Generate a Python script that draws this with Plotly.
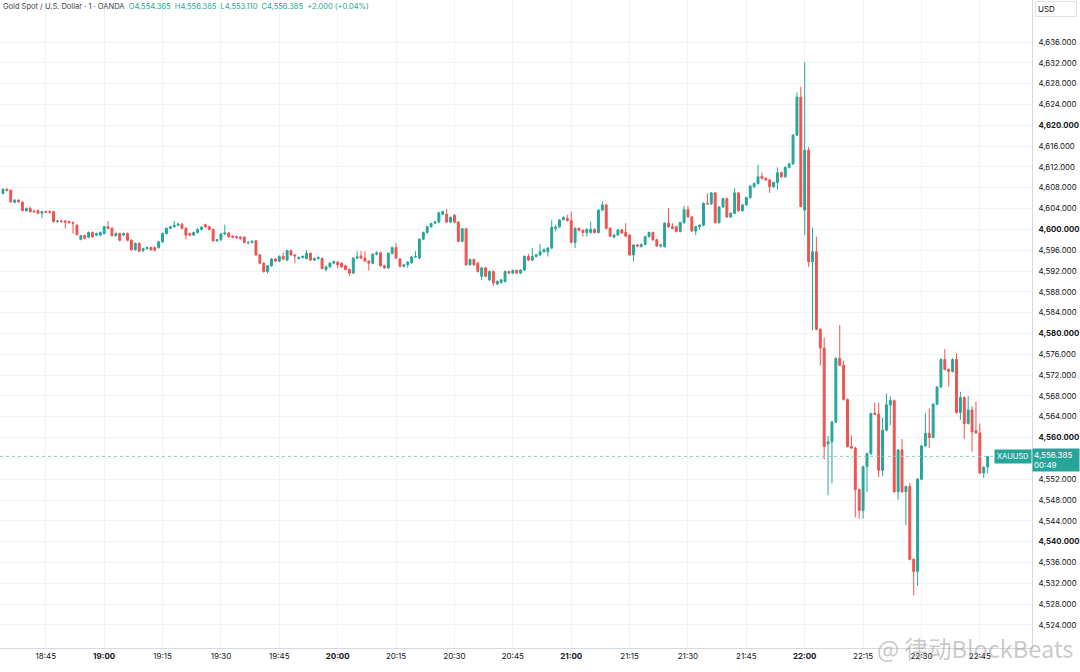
import pandas as pd
import plotly.graph_objects as go

# 1-minute OANDA XAUUSD candles, 18:34 -> 22:47
opens = [
    4606.9, 4607.7, 4607.5, 4605.2, 4605.6, 4605.2, 4603.6, 4604.0, 4603.5, 4603.6,
    4603.1, 4603.4, 4603.4, 4603.4, 4601.5, 4601.6, 4601.6, 4601.5, 4601.3, 4600.8,
    4598.1, 4598.8, 4598.5, 4599.4, 4598.9, 4598.9, 4599.2, 4600.5, 4600.2, 4598.8,
    4599.2, 4598.9, 4599.2, 4597.9, 4596.1, 4597.3, 4595.9, 4596.3, 4596.5, 4596.5,
    4596.5, 4597.6, 4599.2, 4600.2, 4600.5, 4600.8, 4601.0, 4600.2, 4599.2, 4598.9,
    4599.4, 4600.0, 4600.9, 4600.5, 4600.0, 4597.8, 4598.0, 4599.1, 4599.3, 4598.7,
    4598.6, 4598.5, 4598.5, 4597.4, 4597.5, 4597.8, 4595.1, 4593.5, 4591.9, 4593.0,
    4594.3, 4593.9, 4594.8, 4594.1, 4595.9, 4595.1, 4594.4, 4594.6, 4594.4, 4595.4,
    4594.1, 4594.4, 4594.4, 4592.3, 4592.8, 4593.5, 4593.7, 4593.5, 4593.0, 4592.3,
    4591.6, 4594.5, 4594.9, 4594.5, 4593.9, 4593.5, 4595.2, 4595.5, 4593.0, 4592.6,
    4595.4, 4596.5, 4594.3, 4592.9, 4593.2, 4593.6, 4594.7, 4594.5, 4598.1, 4599.4,
    4600.5, 4601.2, 4601.4, 4602.9, 4602.9, 4601.4, 4602.7, 4601.4, 4597.7, 4600.1,
    4593.2, 4594.2, 4593.5, 4591.0, 4592.6, 4590.3, 4591.9, 4589.5, 4589.8, 4590.0,
    4591.9, 4591.6, 4592.1, 4591.6, 4592.2, 4594.8, 4594.1, 4594.8, 4595.1, 4595.7,
    4595.7, 4596.4, 4600.2, 4600.5, 4601.9, 4602.1, 4601.7, 4597.5, 4600.2, 4599.8,
    4599.4, 4599.4, 4600.0, 4599.4, 4603.7, 4604.7, 4600.2, 4598.5, 4598.9, 4599.9,
    4599.4, 4598.9, 4595.1, 4597.0, 4596.7, 4597.1, 4598.6, 4599.4, 4598.0, 4596.8,
    4596.7, 4601.2, 4600.5, 4600.5, 4599.6, 4601.3, 4603.8, 4602.4, 4599.7, 4600.5,
    4600.8, 4605.0, 4604.9, 4607.0, 4601.3, 4604.3, 4605.9, 4602.4, 4603.1, 4607.0,
    4603.6, 4604.7, 4606.1, 4608.2, 4608.8, 4610.2, 4609.8, 4609.5, 4608.2, 4609.0,
    4610.9, 4610.1, 4611.9, 4612.6, 4618.1, 4625.4, 4603.7, 4615.2, 4593.8, 4595.7,
    4580.8, 4577.2, 4558.8, 4559.2, 4563.0, 4575.2, 4573.9, 4567.3, 4558.3, 4558.0,
    4550.0, 4546.0, 4554.4, 4556.9, 4564.7, 4564.5, 4553.7, 4561.4, 4566.3, 4567.1,
    4549.6, 4557.6, 4549.6, 4550.6, 4536.6, 4534.3, 4552.0, 4558.4, 4560.8, 4560.0,
    4566.4, 4569.7, 4575.0, 4573.1, 4572.7, 4575.0, 4564.8, 4567.7, 4562.7, 4565.3,
    4561.3, 4560.9, 4553.2, 4554.365,
]
highs = [
    4607.9, 4607.9, 4607.7, 4605.8, 4605.8, 4605.4, 4604.2, 4604.4, 4603.8, 4603.8,
    4603.6, 4603.6, 4603.6, 4603.6, 4601.8, 4601.9, 4601.8, 4601.7, 4601.5, 4601.0,
    4598.9, 4599.0, 4599.6, 4599.6, 4599.4, 4599.6, 4600.7, 4601.6, 4600.4, 4599.4,
    4599.4, 4599.4, 4599.4, 4598.1, 4597.5, 4597.5, 4596.5, 4596.7, 4596.7, 4596.7,
    4597.8, 4599.4, 4600.4, 4600.7, 4601.6, 4601.3, 4601.2, 4600.4, 4599.4, 4599.6,
    4600.2, 4600.6, 4601.1, 4600.7, 4600.2, 4598.2, 4599.3, 4600.9, 4599.5, 4598.9,
    4598.8, 4598.7, 4598.7, 4597.7, 4597.9, 4598.0, 4595.3, 4593.7, 4593.2, 4594.5,
    4594.5, 4595.0, 4595.6, 4596.1, 4596.1, 4595.3, 4594.8, 4595.0, 4596.0, 4595.6,
    4594.6, 4594.8, 4594.6, 4593.0, 4593.7, 4594.0, 4593.9, 4593.7, 4593.2, 4592.5,
    4594.7, 4595.8, 4595.8, 4595.8, 4594.1, 4595.4, 4595.8, 4595.7, 4593.2, 4595.6,
    4596.7, 4597.4, 4594.5, 4593.4, 4593.9, 4594.9, 4595.8, 4598.3, 4599.6, 4600.7,
    4601.3, 4601.6, 4603.4, 4603.6, 4603.9, 4602.5, 4602.9, 4601.6, 4600.3, 4600.3,
    4594.4, 4594.4, 4593.7, 4592.8, 4592.8, 4592.1, 4592.1, 4590.2, 4590.5, 4592.1,
    4592.1, 4592.3, 4592.3, 4592.3, 4595.0, 4595.3, 4596.4, 4595.3, 4597.2, 4596.3,
    4596.6, 4601.8, 4600.9, 4602.0, 4602.5, 4602.8, 4603.4, 4600.4, 4600.4, 4600.0,
    4600.2, 4601.5, 4600.2, 4603.9, 4605.4, 4604.9, 4600.4, 4599.1, 4600.1, 4600.1,
    4601.2, 4599.1, 4597.2, 4597.2, 4597.3, 4598.8, 4599.6, 4599.6, 4598.2, 4597.2,
    4601.4, 4604.1, 4601.2, 4600.7, 4601.5, 4604.5, 4604.5, 4602.6, 4600.7, 4601.0,
    4605.2, 4606.9, 4607.2, 4607.2, 4604.5, 4606.1, 4606.1, 4603.3, 4607.9, 4607.2,
    4604.9, 4606.3, 4608.5, 4609.0, 4612.4, 4610.9, 4610.0, 4609.7, 4609.2, 4611.9,
    4611.1, 4612.1, 4612.8, 4618.3, 4626.3, 4627.4, 4632.1, 4615.8, 4600.3, 4598.6,
    4581.0, 4579.2, 4560.3, 4563.2, 4575.4, 4581.6, 4574.8, 4567.5, 4560.4, 4558.2,
    4550.2, 4554.6, 4557.1, 4564.8, 4566.7, 4566.7, 4563.8, 4568.5, 4567.9, 4567.3,
    4557.8, 4559.7, 4550.8, 4551.3, 4536.8, 4552.2, 4558.6, 4564.7, 4565.6, 4566.6,
    4569.9, 4575.2, 4577.0, 4573.3, 4575.2, 4576.2, 4568.8, 4567.9, 4568.0, 4566.0,
    4566.9, 4562.7, 4554.5, 4556.385,
]
lows = [
    4606.7, 4607.3, 4605.1, 4605.0, 4605.1, 4603.5, 4603.4, 4603.2, 4603.2, 4602.9,
    4602.2, 4603.1, 4603.0, 4601.3, 4601.3, 4601.3, 4600.2, 4601.1, 4599.2, 4598.8,
    4597.9, 4598.1, 4598.3, 4598.4, 4598.7, 4598.7, 4599.0, 4600.0, 4598.6, 4598.6,
    4597.7, 4598.7, 4597.7, 4595.9, 4595.9, 4595.6, 4595.7, 4596.1, 4595.9, 4595.8,
    4596.3, 4597.4, 4599.0, 4600.0, 4600.3, 4600.6, 4600.0, 4598.1, 4598.7, 4598.7,
    4599.2, 4599.8, 4600.3, 4599.8, 4597.6, 4597.6, 4597.8, 4598.9, 4598.4, 4598.3,
    4598.2, 4598.0, 4597.3, 4597.1, 4597.3, 4594.9, 4593.3, 4591.7, 4591.5, 4592.8,
    4593.7, 4593.7, 4594.1, 4593.9, 4594.9, 4593.5, 4594.2, 4594.4, 4594.2, 4593.9,
    4593.9, 4594.2, 4592.3, 4591.9, 4592.6, 4593.3, 4592.5, 4592.6, 4592.1, 4591.0,
    4591.4, 4594.3, 4594.3, 4593.7, 4592.1, 4593.3, 4595.0, 4592.8, 4592.4, 4592.4,
    4595.2, 4594.3, 4592.7, 4592.7, 4592.6, 4593.4, 4594.5, 4594.3, 4597.9, 4599.2,
    4600.3, 4601.0, 4601.2, 4602.7, 4601.2, 4601.2, 4601.2, 4597.5, 4597.5, 4593.0,
    4593.0, 4593.0, 4591.7, 4590.3, 4590.8, 4590.1, 4589.2, 4589.3, 4589.6, 4589.8,
    4591.4, 4591.4, 4591.4, 4591.4, 4592.0, 4593.9, 4593.9, 4594.6, 4594.9, 4595.5,
    4594.8, 4596.2, 4599.6, 4600.3, 4601.7, 4601.5, 4597.3, 4596.4, 4599.6, 4598.6,
    4598.6, 4599.2, 4599.2, 4599.2, 4603.5, 4600.0, 4598.5, 4598.3, 4598.7, 4599.1,
    4598.5, 4594.9, 4593.8, 4596.6, 4596.5, 4596.9, 4598.4, 4597.8, 4596.6, 4596.5,
    4596.5, 4600.3, 4600.0, 4599.4, 4599.4, 4601.1, 4602.2, 4599.5, 4598.9, 4599.9,
    4600.6, 4604.7, 4604.7, 4601.1, 4601.1, 4604.1, 4602.2, 4602.2, 4602.9, 4603.4,
    4603.4, 4604.5, 4605.9, 4608.0, 4608.6, 4609.6, 4609.3, 4607.0, 4608.0, 4607.6,
    4609.9, 4609.9, 4611.7, 4612.4, 4617.9, 4604.2, 4598.9, 4592.8, 4580.6, 4580.6,
    4573.9, 4555.8, 4548.9, 4551.2, 4562.8, 4573.7, 4567.1, 4558.1, 4557.8, 4544.7,
    4544.4, 4544.4, 4549.5, 4556.7, 4564.3, 4552.4, 4552.6, 4561.2, 4562.4, 4549.4,
    4548.1, 4549.4, 4543.2, 4536.4, 4529.7, 4531.5, 4551.8, 4558.2, 4558.0, 4559.9,
    4566.2, 4569.5, 4572.9, 4569.8, 4572.5, 4564.6, 4563.4, 4559.7, 4562.5, 4557.3,
    4560.7, 4553.0, 4552.2, 4553.110,
]
closes = [
    4607.7, 4607.5, 4605.3, 4605.6, 4605.3, 4603.6, 4604.0, 4603.4, 4603.4, 4603.1,
    4603.4, 4603.3, 4603.3, 4601.5, 4601.6, 4601.5, 4601.4, 4601.3, 4601.2, 4599.0,
    4598.8, 4598.3, 4599.4, 4598.6, 4599.2, 4599.4, 4600.5, 4600.2, 4598.8, 4599.2,
    4597.9, 4599.2, 4597.9, 4596.1, 4597.3, 4595.8, 4596.3, 4596.5, 4596.1, 4596.0,
    4597.6, 4599.2, 4600.2, 4600.5, 4600.8, 4601.0, 4600.2, 4598.9, 4598.9, 4599.4,
    4600.0, 4600.4, 4600.5, 4600.0, 4597.8, 4598.0, 4599.1, 4599.3, 4598.6, 4598.5,
    4598.4, 4598.3, 4597.5, 4597.5, 4597.7, 4595.1, 4593.5, 4591.9, 4593.0, 4594.3,
    4593.9, 4594.8, 4594.3, 4595.9, 4595.1, 4594.9, 4594.6, 4594.8, 4595.4, 4594.1,
    4594.4, 4594.6, 4592.5, 4592.8, 4593.5, 4593.8, 4593.2, 4592.8, 4592.3, 4591.6,
    4594.5, 4594.7, 4594.5, 4593.9, 4593.5, 4595.2, 4595.5, 4593.0, 4592.6, 4595.4,
    4596.5, 4594.5, 4592.9, 4593.2, 4593.7, 4594.7, 4594.8, 4598.1, 4599.4, 4600.5,
    4601.1, 4601.4, 4603.2, 4603.4, 4601.4, 4602.3, 4601.4, 4597.7, 4600.1, 4593.2,
    4594.2, 4593.2, 4591.9, 4592.6, 4591.0, 4591.9, 4589.7, 4590.0, 4590.3, 4591.9,
    4591.6, 4592.1, 4591.6, 4592.2, 4594.8, 4594.1, 4594.8, 4595.1, 4595.7, 4596.1,
    4596.4, 4600.4, 4600.4, 4601.8, 4602.3, 4601.7, 4597.5, 4600.2, 4599.8, 4599.4,
    4600.0, 4600.0, 4599.4, 4603.7, 4604.7, 4600.2, 4598.7, 4598.9, 4599.9, 4599.3,
    4598.7, 4595.1, 4597.0, 4596.8, 4597.1, 4598.6, 4599.4, 4598.0, 4596.8, 4597.0,
    4601.2, 4600.5, 4600.2, 4599.6, 4601.3, 4603.8, 4602.4, 4599.7, 4600.5, 4600.8,
    4605.0, 4604.9, 4607.0, 4601.3, 4604.3, 4605.9, 4602.4, 4603.1, 4607.0, 4603.6,
    4604.7, 4606.1, 4608.3, 4608.8, 4610.1, 4609.8, 4609.5, 4608.2, 4609.0, 4610.9,
    4610.1, 4611.9, 4612.6, 4618.1, 4625.4, 4604.4, 4615.2, 4593.8, 4595.7, 4580.8,
    4577.2, 4558.3, 4559.2, 4563.0, 4575.2, 4573.9, 4567.3, 4558.3, 4558.0, 4550.0,
    4546.0, 4554.4, 4556.9, 4564.6, 4564.5, 4553.7, 4561.4, 4566.3, 4567.1, 4549.6,
    4557.6, 4549.6, 4550.6, 4536.6, 4534.3, 4552.0, 4558.4, 4560.8, 4560.0, 4566.4,
    4569.7, 4575.0, 4573.1, 4572.7, 4575.0, 4564.8, 4567.7, 4562.7, 4565.3, 4561.1,
    4560.9, 4553.2, 4554.3, 4556.385,
]

time_ticks = ['18:45', '19:00', '19:15', '19:30', '19:45', '20:00', '20:15', '20:30', '20:45',
              '21:00', '21:15', '21:30', '21:45', '22:00', '22:15', '22:30', '22:45']
price_ticks = [4524, 4528, 4532, 4536, 4540, 4544, 4548, 4552, 4556, 4560, 4564, 4568, 4572,
               4576, 4580, 4584, 4588, 4592, 4596, 4600, 4604, 4608, 4612, 4616, 4620, 4624,
               4628, 4632, 4636]
last_price = 4556.385

UP = '#26a69a'
DOWN = '#ef5350'
GRID = '#f1f3f8'
TEXT = '#131722'
DAY = '2026-01-13 '

times = pd.date_range(DAY + '18:34', periods=len(closes), freq='min')

fig = go.Figure(go.Candlestick(
    x=times, open=opens, high=highs, low=lows, close=closes,
    increasing=dict(line=dict(color=UP, width=1), fillcolor=UP),
    decreasing=dict(line=dict(color=DOWN, width=1), fillcolor=DOWN),
    whiskerwidth=0, hoverinfo='skip',
))

x_text = [f'<b>{t}</b>' if t.endswith(':00') else t for t in time_ticks]
y_text = [f'<b>{v:,.3f}</b>' if v % 20 == 0 else f'{v:,.3f}' for v in price_ticks]

fig.update_layout(
    width=1080, height=672,
    margin=dict(l=0, r=48, t=0, b=24),
    paper_bgcolor='white', plot_bgcolor='white',
    showlegend=False,
    font=dict(family='Inter, Liberation Sans, sans-serif', color=TEXT),
    xaxis=dict(
        type='date', range=[DAY + '18:33:14', DAY + '22:58:24'],
        tickvals=[DAY + t for t in time_ticks], ticktext=x_text,
        tickfont=dict(size=8, color=TEXT), ticks='',
        showgrid=True, gridcolor=GRID, gridwidth=1,
        showline=True, linecolor='#d6d9e0', linewidth=1,
        zeroline=False, rangeslider=dict(visible=False),
    ),
    yaxis=dict(
        side='right', range=[4519.57, 4644.07],
        tickvals=price_ticks, ticktext=y_text,
        tickfont=dict(size=7.8, color=TEXT), ticks='', ticklabelstandoff=4,
        showgrid=True, gridcolor=GRID, gridwidth=1,
        showline=True, linecolor='#d6d9e0', linewidth=1,
        zeroline=False, automargin=False,
    ),
)

# last price dotted line
fig.add_shape(type='line', xref='paper', x0=0, x1=1, yref='y', y0=last_price, y1=last_price,
              line=dict(color='#8fc9c1', width=1, dash='dot'))

header = ('Gold Spot / U.S. Dollar · 1 · OANDA  '
          f'<span style="color:{UP}">O4,554.365  H4,556.385  L4,553.110  '
          'C4,556.385  +2.000 (+0.04%)</span>')
fig.add_annotation(xref='paper', yref='paper', x=0, y=1, xanchor='left', yanchor='top',
                   xshift=1, yshift=0, text=header, showarrow=False,
                   font=dict(size=7.5, color='#3b3f4a'))

fig.add_annotation(xref='paper', yref='y', x=1, y=last_price, xanchor='right', yanchor='middle',
                   text='XAUUSD', showarrow=False, bgcolor=UP, borderpad=2,
                   font=dict(size=7.5, color='white'))
fig.add_annotation(xref='paper', yref='y', x=1, y=last_price, xanchor='left', yanchor='middle',
                   yshift=-4, text='4,556.385<br>00:49', showarrow=False, bgcolor=UP,
                   borderpad=1, width=44, align='left',
                   font=dict(size=8, color='white'))

fig.add_annotation(xref='paper', yref='paper', x=1, y=1, xanchor='left', yanchor='top',
                   xshift=3, yshift=-1, text='USD', showarrow=False, width=36, align='left',
                   bordercolor='#e0e3eb', borderwidth=1, borderpad=2,
                   font=dict(size=8, color=TEXT))

# watermark
fig.add_annotation(xref='paper', yref='paper', x=1.042, y=0, xanchor='right', yanchor='middle',
                   text='@ 律动BlockBeats', showarrow=False,
                   font=dict(size=23.5, color='rgba(150,150,150,0.5)',
                             family='Noto Sans CJK SC, Noto Sans, sans-serif'))

fig.write_html('out.html', config={'displayModeBar': False},
               post_script="document.body.style.margin='0px';")
